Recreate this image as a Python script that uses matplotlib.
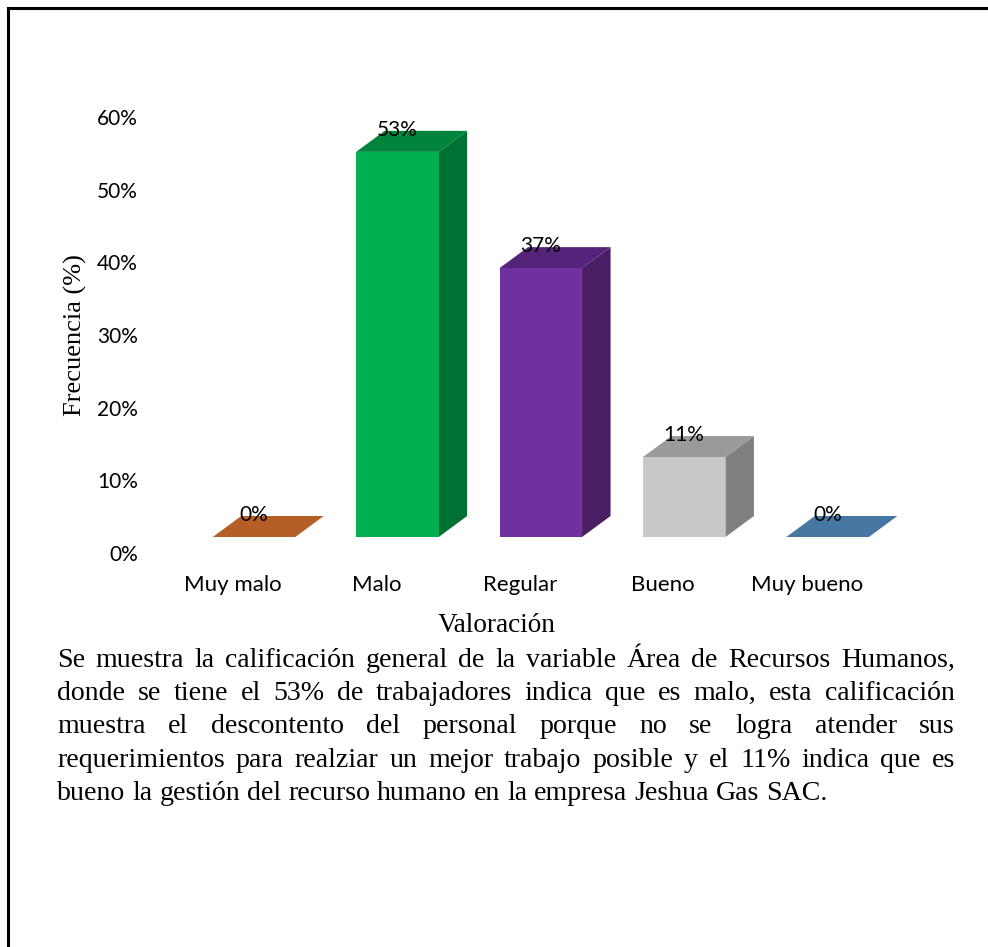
import matplotlib
matplotlib.use("Agg")
import matplotlib.pyplot as plt
import numpy as np
from matplotlib.patches import Polygon
from matplotlib.lines import Line2D
from matplotlib.transforms import ScaledTranslation

# datos del gráfico
categorias = ["Muy malo", "Malo", "Regular", "Bueno", "Muy bueno"]
frecuencias = [0, 53, 37, 11, 0]
ticks_y = [0, 10, 20, 30, 40, 50, 60]

color_frente = ["#B55F27", "#00B050", "#7030A0", "#C8C8C8", "#4677A2"]
color_lado = ["#8A4519", "#007033", "#4A1E63", "#808080", "#325A80"]
color_tapa = ["#B55F27", "#00843C", "#55237A", "#9A9A9A", "#4677A2"]

texto = [
    "Se muestra la calificación general de la variable Área de Recursos Humanos,",
    "donde se tiene el 53% de trabajadores indica que es malo, esta calificación",
    "muestra el descontento del personal porque no se logra atender sus",
    "requerimientos para realziar un mejor trabajo posible y el 11% indica que es",
    "bueno la gestión del recurso humano en la empresa Jeshua Gas SAC.",
]

W, H, DPI = 988, 947, 100
SANS = "Lato"
SERIF = "Liberation Serif"

fig = plt.figure(figsize=(W / DPI, H / DPI), dpi=DPI)

# =========================================================
# EJES (en pixeles de la figura)
# =========================================================

px_izq, px_der = 150, 930
px_arriba, px_abajo = 117, 553
centro0, paso = 254, 143.4

ax = fig.add_axes([px_izq / W, 1 - px_abajo / H,
                   (px_der - px_izq) / W, (px_abajo - px_arriba) / H])
ax.set_xlim((px_izq - centro0) / paso, (px_der - centro0) / paso)
ax.set_ylim(0, 60)

px_por_pct = (px_abajo - px_arriba) / 60.0
base = 16 / px_por_pct          # el piso 3D queda un poco arriba del 0%
prof_x = 28.5 / paso
prof_y = 21 / px_por_pct
ancho = 82.5 / paso

x = np.arange(len(categorias))

ax.bar(x, frecuencias, width=ancho, bottom=base, color=color_frente,
       linewidth=0, zorder=3)

for i, v in enumerate(frecuencias):
    x0, x1 = x[i] - ancho / 2, x[i] + ancho / 2
    y0, y1 = base, base + v

    # lado derecho
    if v > 0:
        lado = Polygon([(x1, y0), (x1 + prof_x, y0 + prof_y),
                        (x1 + prof_x, y1 + prof_y), (x1, y1)],
                       closed=True, facecolor=color_lado[i], linewidth=0, zorder=2)
        ax.add_patch(lado)

    # tapa
    tapa = Polygon([(x0, y1), (x1, y1), (x1 + prof_x, y1 + prof_y),
                    (x0 + prof_x, y1 + prof_y)],
                   closed=True, facecolor=color_tapa[i], linewidth=0, zorder=2)
    ax.add_patch(tapa)

    # etiqueta de valor
    ax.text(x[i], y1, f"{v}%", fontsize=15, family=SANS, color="black",
            ha="center", va="baseline", zorder=5,
            transform=ax.transData + ScaledTranslation(0, 16 / DPI, fig.dpi_scale_trans))

    # categoria
    ax.text(x[i], 0, categorias[i], fontsize=16, family=SANS, color="black",
            ha="center", va="baseline",
            transform=ax.transData + ScaledTranslation(-21 / DPI, -38 / DPI, fig.dpi_scale_trans))

ax.set_yticks(ticks_y)
ax.set_yticklabels([f"{t}%" for t in ticks_y], fontsize=15, family=SANS)
ax.tick_params(axis="y", length=0, pad=8.6)
ax.set_xticks([])
for s in ax.spines.values():
    s.set_visible(False)
ax.patch.set_alpha(0)

# titulos de ejes
fig.text(75 / W, 1 - 335 / H, "Frecuencia (%)", rotation=90, fontsize=19,
         family=SERIF, ha="center", va="center")
fig.text(497 / W, 1 - 632 / H, "Valoración", fontsize=19.6,
         family=SERIF, ha="center", va="baseline")

# =========================================================
# PARRAFO JUSTIFICADO
# =========================================================

txt_izq, txt_der = 57, 955
linea0, interlineado = 667, 33.2
renderer = fig.canvas.get_renderer()

for n, linea in enumerate(texto):
    palabras = linea.split(" ")
    y = 1 - (linea0 + n * interlineado) / H
    objs = [fig.text(0, y, p, fontsize=20.1, family=SERIF, va="baseline", ha="left")
            for p in palabras]
    anchos = [o.get_window_extent(renderer).width for o in objs]
    if n < len(texto) - 1:
        hueco = (txt_der - txt_izq - sum(anchos)) / (len(palabras) - 1)
    else:
        hueco = objs[0].get_fontsize() * DPI / 72 * 0.25
    pos = txt_izq
    for o, a in zip(objs, anchos):
        o.set_x(pos / W)
        pos += a + hueco

# marco de la pagina
fig.add_artist(Line2D([8 / W, 8 / W], [0, 1 - 8 / H], color="black", lw=2.2))
fig.add_artist(Line2D([8 / W, 1], [1 - 8 / H, 1 - 8 / H], color="black", lw=2.2))

fig.savefig("out.png", dpi=DPI)
